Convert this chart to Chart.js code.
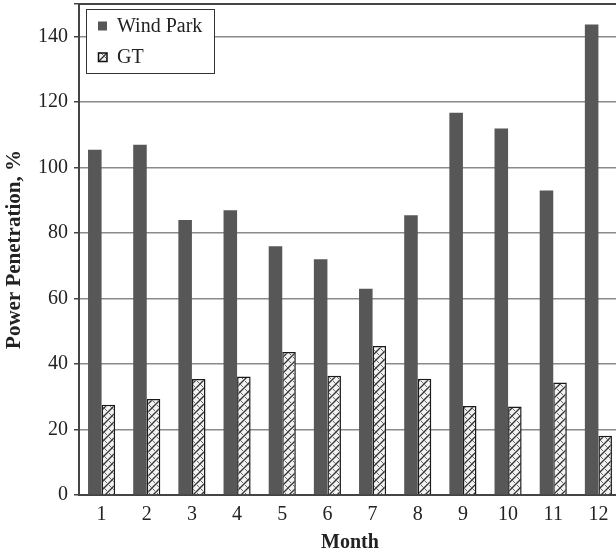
<!DOCTYPE html>
<html>
<head>
<meta charset="utf-8">
<script src="https://cdn.jsdelivr.net/npm/chart.js@4/dist/chart.umd.min.js"></script>
<style>
  html, body { margin: 0; padding: 0; background: #fff; overflow: hidden; width: 616px; height: 557px; }
  #wrap { width: 630px; height: 557px; }
</style>
</head>
<body>
<div id="wrap"><canvas id="c" width="630" height="557"></canvas></div>
<script>
const months = ['1','2','3','4','5','6','7','8','9','10','11','12'];
const windPark = [105.5, 107, 84, 87, 76, 72, 63, 85.5, 116.8, 112, 93, 143.7];
const gt = [27.6, 29.3, 35.4, 36.2, 43.7, 36.4, 45.5, 35.5, 27.2, 27, 34.4, 18.1];
const seriesNames = ['Wind Park', 'GT'];
const yMax = 150;
const yStep = 20;

function makePattern() {
  const t = document.createElement('canvas');
  t.width = 8; t.height = 8;
  const g = t.getContext('2d');
  g.fillStyle = '#f2f2f2';
  g.fillRect(0, 0, 8, 8);
  g.strokeStyle = '#666';
  g.lineWidth = 1;
  g.beginPath();
  g.moveTo(0, 0); g.lineTo(3, 3);
  g.moveTo(5, 5); g.lineTo(8, 8);
  g.stroke();
  g.strokeStyle = '#333';
  g.lineWidth = 1.3;
  g.beginPath();
  g.moveTo(-1, 9); g.lineTo(9, -1);
  g.stroke();
  return g.createPattern(t, 'repeat');
}
const hatch = makePattern();
const FONT = "'Liberation Serif', 'Times New Roman', serif";

const legendPlugin = {
  id: 'boxLegend',
  afterDraw(chart) {
    const ctx = chart.ctx;
    const a = chart.chartArea;
    ctx.save();
    ctx.strokeStyle = '#444';
    ctx.lineWidth = 2;
    ctx.beginPath();
    ctx.moveTo(a.left, a.top);
    ctx.lineTo(a.right + 10, a.top);
    ctx.stroke();
    const bx = a.left + 7, by = a.top + 5, bw = 128, bh = 64;
    ctx.fillStyle = '#fff';
    ctx.fillRect(bx, by, bw, bh);
    ctx.strokeStyle = '#333';
    ctx.lineWidth = 1;
    ctx.strokeRect(bx + 0.5, by + 0.5, bw, bh);
    const ds = chart.data.datasets;
    const rows = [by + 17, by + 48];
    ctx.font = '20px ' + FONT;
    ctx.textBaseline = 'middle';
    ctx.textAlign = 'left';
    ds.forEach((d, i) => {
      const y = rows[i];
      const mx = bx + 12;
      ctx.fillStyle = d.backgroundColor;
      ctx.fillRect(mx, y - 4.5, 9, 9);
      if (d.borderWidth) {
        ctx.strokeStyle = '#111';
        ctx.lineWidth = 1.5;
        ctx.strokeRect(mx + 0.5, y - 4, 8.5, 8.5);
      }
      ctx.fillStyle = '#222';
      ctx.fillText(d.label, bx + 31, y + 1);
    });
    ctx.restore();
  }
};

new Chart(document.getElementById('c'), {
  type: 'bar',
  data: {
    labels: months,
    datasets: [
      { label: seriesNames[0], data: windPark, backgroundColor: '#575757', borderWidth: 0 },
      { label: seriesNames[1], data: gt, backgroundColor: hatch, borderColor: '#1a1a1a', borderWidth: 1.5, borderSkipped: 'bottom' }
    ]
  },
  options: {
    responsive: false,
    animation: false,
    devicePixelRatio: 1,
    layout: { padding: { top: 4, right: 9, left: 0, bottom: 0 } },
    datasets: { bar: { categoryPercentage: 0.6, barPercentage: 1.0 } },
    plugins: { legend: { display: false }, tooltip: { enabled: false } },
    scales: {
      x: {
        grid: { display: false, drawTicks: false },
        border: { display: true, color: '#444', width: 2 },
        ticks: { color: '#222', font: { family: FONT, size: 20 }, padding: 8 },
        title: { display: true, text: 'Month', color: '#222', font: { family: FONT, size: 20, weight: 'bold' }, padding: { top: 2, bottom: 2 } },
        afterFit(s) { s.height = 62; s.paddingLeft = 0; s.paddingRight = 0; }
      },
      y: {
        min: 0, max: yMax,
        grid: { color: '#8a8a8a', lineWidth: 1.5, tickLength: 5, tickColor: '#444' },
        border: { display: true, color: '#444', width: 2 },
        ticks: { stepSize: yStep, color: '#222', font: { family: FONT, size: 20 }, padding: 6,
          callback: v => (v % yStep === 0 ? v : '') },
        title: { display: true, text: 'Power Penetration, %', color: '#222', font: { family: FONT, size: 21, weight: 'bold' }, padding: { top: 2, bottom: 2 } },
        afterFit(s) { s.width = 79; s.paddingTop = 0; s.paddingBottom = 0; }
      }
    }
  },
  plugins: [legendPlugin]
});
</script>
</body>
</html>
